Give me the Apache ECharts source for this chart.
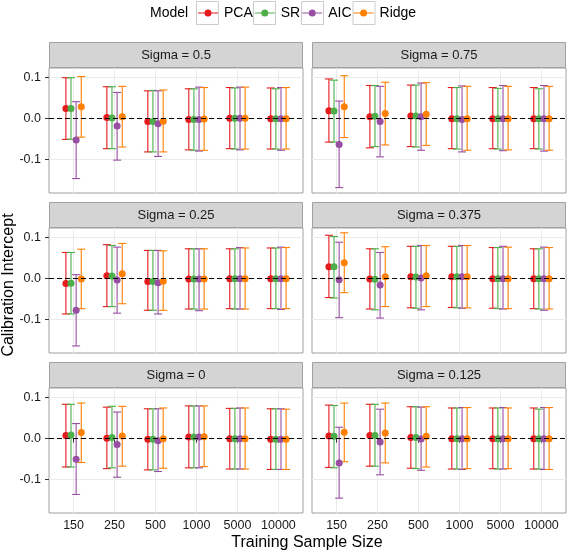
<!DOCTYPE html>
<html>
<head>
<meta charset="utf-8">
<script src="https://cdn.jsdelivr.net/npm/echarts@6/dist/echarts.min.js"></script>
<style>html,body{margin:0;padding:0;background:#fff}#c{width:567px;height:553px}</style>
</head>
<body>
<div id="c"></div>
<script>
// ---------------- data ----------------
const sizes = ['150', '250', '500', '1000', '5000', '10000'];
const models = ['PCA', 'SR', 'AIC', 'Ridge'];
const sigmaLabels = ['Sigma = 0.5', 'Sigma = 0.75', 'Sigma = 0.25', 'Sigma = 0.375', 'Sigma = 0', 'Sigma = 0.125'];
const yTicks = [-0.1, 0, 0.1];

// each: [PCA, SR, AIC, Ridge], values per training size
const est_s050 = [[0.025, 0.003, -0.0065, -0.002, 0.001, 0.000], [0.025, 0.002, -0.0065, -0.002, 0.001, 0.000], [-0.052, -0.018, -0.012, -0.002, 0.001, 0.000], [0.029, 0.005, -0.006, -0.001, 0.001, 0.000]];
const lo_s050  = [[-0.0505, -0.073, -0.081, -0.076, -0.073, -0.074], [-0.050, -0.073, -0.081, -0.077, -0.074, -0.074], [-0.146, -0.101, -0.092, -0.079, -0.076, -0.077], [-0.045, -0.069, -0.081, -0.077, -0.074, -0.074]];
const hi_s050  = [[0.100, 0.078, 0.068, 0.073, 0.076, 0.075], [0.100, 0.078, 0.069, 0.073, 0.075, 0.073], [0.0416, 0.064, 0.068, 0.077, 0.077, 0.076], [0.103, 0.079, 0.070, 0.076, 0.077, 0.076]];

const est_s075 = [[0.0196, 0.005, 0.0065, 0, 0, 0], [0.019, 0.006, 0.0065, 0, 0, 0], [-0.063, -0.0065, 0.005, -0.002, 0, 0], [0.029, 0.013, 0.011, 0, 0, 0]];
const lo_s075  = [[-0.057, -0.071, -0.068, -0.073, -0.073, -0.073], [-0.057, -0.068, -0.069, -0.074, -0.074, -0.074], [-0.168, -0.093, -0.077, -0.081, -0.078, -0.079], [-0.046, -0.064, -0.065, -0.077, -0.076, -0.077]];
const hi_s075  = [[0.097, 0.081, 0.082, 0.076, 0.076, 0.076], [0.094, 0.081, 0.082, 0.076, 0.074, 0.073], [0.043, 0.079, 0.087, 0.080, 0.081, 0.081], [0.105, 0.089, 0.088, 0.079, 0.079, 0.079]];

const est_s025 = [[-0.0114, 0.007, -0.0065, -0.001, 0, 0], [-0.011, 0.0065, -0.0065, -0.001, 0, 0], [-0.077, -0.003, -0.010, -0.001, 0, 0], [-0.001, 0.012, -0.006, -0.001, 0, 0]];
const lo_s025  = [[-0.086, -0.068, -0.077, -0.074, -0.073, -0.073], [-0.086, -0.068, -0.077, -0.074, -0.074, -0.073], [-0.164, -0.084, -0.086, -0.078, -0.074, -0.075], [-0.073, -0.061, -0.077, -0.074, -0.074, -0.073]];
const hi_s025  = [[0.064, 0.083, 0.069, 0.073, 0.073, 0.075], [0.064, 0.081, 0.069, 0.073, 0.073, 0.075], [0.0098, 0.077, 0.069, 0.073, 0.076, 0.077], [0.072, 0.086, 0.068, 0.073, 0.075, 0.076]];

const est_s0375 = [[0.029, -0.001, 0.005, 0.005, 0, 0], [0.029, -0.0015, 0.004, 0.005, 0, 0], [-0.0025, -0.0155, 0.0016, 0.005, 0, 0], [0.039, 0.005, 0.007, 0.005, 0, 0]];
const lo_s0375  = [[-0.046, -0.074, -0.071, -0.070, -0.072, -0.073], [-0.047, -0.076, -0.072, -0.071, -0.073, -0.074], [-0.095, -0.096, -0.076, -0.072, -0.074, -0.077], [-0.034, -0.068, -0.068, -0.071, -0.073, -0.074]];
const hi_s0375  = [[0.106, 0.073, 0.079, 0.079, 0.076, 0.073], [0.103, 0.073, 0.079, 0.079, 0.076, 0.073], [0.089, 0.064, 0.081, 0.081, 0.079, 0.077], [0.112, 0.078, 0.081, 0.081, 0.077, 0.076]];

const est_s000 = [[0.008, 0.001, -0.0016, 0.004, 0, -0.0016], [0.009, 0.003, -0.0016, 0.004, 0, -0.0016], [-0.050, -0.014, -0.005, 0.004, 0, -0.0016], [0.015, 0.0065, 0, 0.005, 0, -0.0016]];
const lo_s000  = [[-0.069, -0.073, -0.076, -0.071, -0.074, -0.075], [-0.069, -0.071, -0.076, -0.071, -0.074, -0.075], [-0.136, -0.094, -0.080, -0.071, -0.074, -0.075], [-0.058, -0.067, -0.072, -0.068, -0.074, -0.075]];
const hi_s000  = [[0.084, 0.077, 0.073, 0.080, 0.074, 0.073], [0.084, 0.079, 0.073, 0.080, 0.074, 0.073], [0.037, 0.065, 0.073, 0.080, 0.075, 0.073], [0.087, 0.079, 0.075, 0.080, 0.075, 0.072]];

const est_s0125 = [[0.0065, 0.008, 0.003, 0, 0, 0], [0.006, 0.008, 0.003, 0, 0, 0], [-0.059, -0.008, -0.001, 0, 0, 0], [0.0155, 0.014, 0.006, 0, 0, 0]];
const lo_s0125  = [[-0.070, -0.067, -0.072, -0.074, -0.073, -0.074], [-0.071, -0.067, -0.073, -0.074, -0.074, -0.074], [-0.145, -0.088, -0.077, -0.075, -0.074, -0.075], [-0.056, -0.059, -0.069, -0.073, -0.073, -0.075]];
const hi_s0125  = [[0.082, 0.084, 0.078, 0.075, 0.075, 0.075], [0.081, 0.084, 0.078, 0.075, 0.075, 0.072], [0.028, 0.072, 0.077, 0.076, 0.076, 0.076], [0.087, 0.087, 0.078, 0.076, 0.075, 0.076]];

const panelEst = [est_s050, est_s075, est_s025, est_s0375, est_s000, est_s0125];
const panelLo  = [lo_s050, lo_s075, lo_s025, lo_s0375, lo_s000, lo_s0125];
const panelHi  = [hi_s050, hi_s075, hi_s025, hi_s0375, hi_s000, hi_s0125];

// ---------------- layout / style ----------------
const colors = ['#E41A1C', '#4DAF4A', '#984EA3', '#FF7F00'];
const FONT = 'Liberation Sans, Arial, Helvetica, sans-serif';
const colLeft = [49, 312];
const rowTop = [68, 228, 388];
const PW = 254, PH = 125, STRIP = 26;
const dodge = 0.125;
const txtCol = '#1a1a1a';

const grids = [], xAxes = [], yAxes = [], series = [], graphics = [];

function renderErr(params, api) {
  const x = api.value(0), lo = api.value(1), hi = api.value(2);
  const t = api.coord([x, hi]), b = api.coord([x, lo]);
  const hw = 4;
  const st = { stroke: api.visual('color'), lineWidth: 1.1, fill: null };
  return {
    type: 'group',
    children: [
      { type: 'line', shape: { x1: t[0], y1: t[1], x2: b[0], y2: b[1] }, style: st },
      { type: 'line', shape: { x1: t[0] - hw, y1: t[1], x2: t[0] + hw, y2: t[1] }, style: st },
      { type: 'line', shape: { x1: b[0] - hw, y1: b[1], x2: b[0] + hw, y2: b[1] }, style: st }
    ]
  };
}

for (let p = 0; p < 6; p++) {
  const r = Math.floor(p / 2), c = p % 2;
  const left = colLeft[c], top = rowTop[r];
  grids.push({ left: left, top: top, width: PW, height: PH, show: true, backgroundColor: '#fff', borderColor: '#A0A0A0', borderWidth: 1 });
  const bottomRow = r === 2, leftCol = c === 0;
  xAxes.push({
    type: 'value', gridIndex: p, min: 0.4, max: 6.6, splitNumber: 6,
    axisLine: { show: false },
    axisTick: { show: bottomRow, customValues: [1, 2, 3, 4, 5, 6], length: 4, lineStyle: { color: '#333' } },
    axisLabel: { show: bottomRow, customValues: [1, 2, 3, 4, 5, 6], margin: 6, fontSize: 12.5, color: txtCol, fontFamily: FONT,
      formatter: v => sizes[Math.round(v) - 1] },
    splitLine: { show: true, lineStyle: { color: '#EBEBEB', width: 1 } }
  });
  yAxes.push({
    type: 'value', gridIndex: p, min: -0.1812, max: 0.1237, splitNumber: 6,
    axisLine: { show: false },
    axisTick: { show: leftCol, customValues: yTicks, length: 4, lineStyle: { color: '#333' } },
    axisLabel: { show: leftCol, customValues: yTicks, margin: 8, fontSize: 12.5, color: txtCol, fontFamily: FONT,
      formatter: v => Math.abs(v) < 1e-9 ? '0.0' : v.toFixed(1) },
    splitLine: { show: true, lineStyle: { color: '#EBEBEB', width: 1 } }
  });

  // error bars
  for (let m = 0; m < 4; m++) {
    const off = (m - 1.5) * dodge;
    const data = sizes.map((s, i) => [i + 1 + off, panelLo[p][m][i], panelHi[p][m][i]]);
    const s = {
      type: 'custom', name: models[m], xAxisIndex: p, yAxisIndex: p, z: 2,
      renderItem: renderErr, itemStyle: { color: colors[m] },
      encode: { x: 0, y: [1, 2] }, data: data, silent: true
    };
    if (m === 3) {
      s.markLine = {
        silent: true, symbol: ['none', 'none'], label: { show: false },
        lineStyle: { color: '#000', type: [5, 3], width: 1.2 },
        data: [{ yAxis: 0 }]
      };
    }
    series.push(s);
  }
  // points
  for (let m = 0; m < 4; m++) {
    const off = (m - 1.5) * dodge;
    series.push({
      type: 'scatter', name: models[m], xAxisIndex: p, yAxisIndex: p, z: 3,
      symbol: 'circle', symbolSize: 7, itemStyle: { color: colors[m], opacity: 1 },
      data: sizes.map((s, i) => [i + 1 + off, panelEst[p][m][i]]), silent: true
    });
  }

  // strip
  graphics.push({
    type: 'rect', z: 1,
    shape: { x: left + 0.5, y: top - STRIP + 0.5, width: PW - 1, height: STRIP - 1 },
    style: { fill: '#D4D4D4', stroke: '#A0A0A0', lineWidth: 1 }
  });
  graphics.push({
    type: 'text', z: 2, x: left + PW / 2, y: top - STRIP / 2,
    style: { text: sigmaLabels[p], font: '13px ' + FONT, fill: txtCol, textAlign: 'center', textVerticalAlign: 'middle', align: 'center', verticalAlign: 'middle' }
  });
}

// axis titles
graphics.push({
  type: 'text', x: 307, y: 543,
  style: { text: 'Training Sample Size', font: '16px ' + FONT, fill: '#000', textAlign: 'center', textVerticalAlign: 'middle', align: 'center', verticalAlign: 'middle' }
});
graphics.push({
  type: 'text', x: 9, y: 285, rotation: Math.PI / 2,
  style: { text: 'Calibration Intercept', font: '16px ' + FONT, fill: '#000', textAlign: 'center', textVerticalAlign: 'middle', align: 'center', verticalAlign: 'middle' }
});
// legend title and key boxes
graphics.push({
  type: 'text', x: 150, y: 13,
  style: { text: 'Model', font: '14px ' + FONT, fill: '#000', textAlign: 'left', textVerticalAlign: 'middle', align: 'left', verticalAlign: 'middle' }
});
[196, 253, 301, 352.5].forEach(x => {
  graphics.push({ type: 'rect', z: 0, shape: { x: x + 0.5, y: 1.5, width: 22, height: 23 }, style: { fill: '#fff', stroke: '#CCCCCC', lineWidth: 1 } });
});

const keyIcon = 'path://M0,0h0.01v0.01h-0.01z M21.99,19.99h0.01v0.01h-0.01z M1,9.4h20v1.2h-20z M14.5,10a3.5,3.5 0 1,1 -7,0a3.5,3.5 0 1,1 7,0z';

const option = {
  animation: false,
  backgroundColor: '#fff',
  textStyle: { fontFamily: FONT },
  legend: {
    left: 197, top: 3, padding: 0, itemGap: 1, itemWidth: 22, itemHeight: 20, z: 10,
    textStyle: { fontSize: 14, color: '#000', fontFamily: FONT },
    data: models.map(n => ({ name: n, icon: keyIcon }))
  },
  grid: grids, xAxis: xAxes, yAxis: yAxes, series: series,
  graphic: { elements: graphics }
};

const chart = echarts.init(document.getElementById('c'), null, { renderer: 'canvas' });
chart.setOption(option);
</script>
</body>
</html>
